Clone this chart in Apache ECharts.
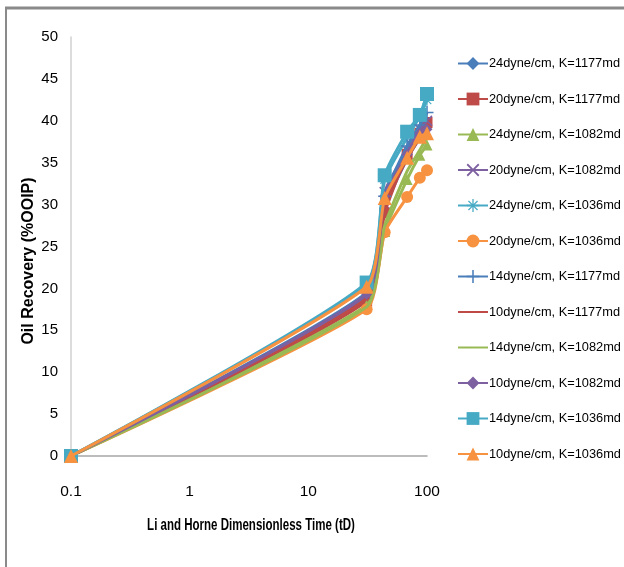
<!DOCTYPE html>
<html>
<head>
<meta charset="utf-8">
<script src="https://cdn.jsdelivr.net/npm/echarts@6/dist/echarts.min.js"></script>
<style>
html,body{margin:0;padding:0;background:#fff;}
#c{width:624px;height:567px;}
</style>
</head>
<body>
<div id="c"></div>
<script>
// ---- data ----
var tD = [0.1, 31, 44, 68, 87, 100];
var seriesNames = [
  '24dyne/cm, K=1177md','20dyne/cm, K=1177md','24dyne/cm, K=1082md','20dyne/cm, K=1082md',
  '24dyne/cm, K=1036md','20dyne/cm, K=1036md','14dyne/cm, K=1177md','10dyne/cm, K=1177md',
  '14dyne/cm, K=1082md','10dyne/cm, K=1082md','14dyne/cm, K=1036md','10dyne/cm, K=1036md'
];
var s24_1177 = [0, 19.0, 29.5, 35.5, 38.0, 39.5];
var s20_1177 = [0, 18.5, 29.0, 36.0, 38.5, 39.8];
var s24_1082 = [0, 18.0, 26.8, 33.0, 35.9, 37.1];
var s20_1082 = [0, 19.2, 31.5, 36.5, 39.0, 40.0];
var s24_1036 = [0, 20.5, 33.0, 38.0, 40.5, 42.5];
var s20_1036 = [0, 17.5, 26.7, 30.9, 33.2, 34.1];
var s14_1177 = [0, 19.5, 31.0, 37.0, 39.5, 41.0];
var s10_1177 = [0, 18.8, 30.0, 35.5, 38.0, 39.5];
var s14_1082 = [0, 17.8, 27.5, 34.0, 36.5, 38.0];
var s10_1082 = [0, 19.3, 31.0, 36.0, 38.5, 39.0];
var s14_1036 = [0, 20.7, 33.5, 38.7, 40.7, 43.2];
var s10_1036 = [0, 20.2, 30.8, 35.6, 38.1, 38.5];
var allValues = [s24_1177,s20_1177,s24_1082,s20_1082,s24_1036,s20_1036,s14_1177,s10_1177,s14_1082,s10_1082,s14_1036,s10_1036];
var yTicks = [0,5,10,15,20,25,30,35,40,45,50];
var xTicks = [0.1,1,10,100];

// ---- styles ----
var C = {blue:'#4A7EBB', red:'#BE4B48', green:'#98B954', purple:'#7D60A0', aqua:'#46AAC5', orange:'#F69240'};
var XMARK = 'path://M0,1L1,0L5,4L9,0L10,1L6,5L10,9L9,10L5,6L1,10L0,9L4,5Z';
var PLUS = 'path://M4.4,0H5.6V4.4H10V5.6H5.6V10H4.4V5.6H0V4.4H4.4Z';
var STAR = 'path://M4.5,0H5.5V3.8L8.2,1.1L8.9,1.8L6.2,4.5H10V5.5H6.2L8.9,8.2L8.2,8.9L5.5,6.2V10H4.5V6.2L1.8,8.9L1.1,8.2L3.8,5.5H0V4.5H3.8L1.1,1.8L1.8,1.1L4.5,3.8Z';
var THIN = 'path://M0,0H0.01V0.01H0Z M0,4.7H10V5.3H0Z M9.99,9.99H10V10H9.99Z';
var styles = [
  {color:C.blue, symbol:'diamond', size:11},
  {color:C.red, symbol:'rect', size:11},
  {color:C.green, symbol:'triangle', size:11},
  {color:C.purple, symbol:XMARK, size:11},
  {color:C.aqua, symbol:STAR, size:12},
  {color:C.orange, symbol:'circle', size:12},
  {color:C.blue, symbol:PLUS, size:13},
  {color:C.red, symbol:'none', size:0},
  {color:C.green, symbol:'none', size:0},
  {color:C.purple, symbol:'diamond', size:11},
  {color:C.aqua, symbol:'rect', size:14},
  {color:C.orange, symbol:'triangle', size:14}
];

var series = allValues.map(function(vals, i){
  var st = styles[i];
  return {
    name: seriesNames[i],
    type: 'line',
    smooth: 0.18,
    data: tD.map(function(x, j){ return [x, vals[j]]; }),
    symbol: st.symbol === 'none' ? THIN : st.symbol,
    symbolSize: st.size,
    showSymbol: st.symbol !== 'none',
    lineStyle: {color: st.color, width: 3},
    itemStyle: {color: st.color},
    z: 2 + i
  };
});

var chart = echarts.init(document.getElementById('c'), null, {renderer:'canvas'});
var FONT = '"Liberation Sans",Arial,sans-serif';
chart.setOption({
  backgroundColor: '#fff',
  animation: false,
  graphic: [
    {type:'line', shape:{x1:5, y1:8, x2:624, y2:8}, style:{stroke:'#8a8a8a', lineWidth:3}},
    {type:'line', shape:{x1:6, y1:8, x2:6, y2:567}, style:{stroke:'#8a8a8a', lineWidth:2}},
    {type:'text', x:251, y:526, scaleX:0.72,
      style:{text:'Li and Horne Dimensionless Time (tD)', fill:'#000',
        font:'bold 16px "Liberation Sans", Arial, sans-serif', textAlign:'center', textVerticalAlign:'middle'}},
    {type:'text', x:29, y:261, rotation:Math.PI/2,
      style:{text:'Oil Recovery (%OOIP)', fill:'#000',
        font:'bold 16px "Liberation Sans", Arial, sans-serif', textAlign:'center', textVerticalAlign:'middle'}}
  ],
  grid: {left:71, right:197, top:37, bottom:111, containLabel:false},
  legend: {
    orient: 'vertical',
    left: 452,
    top: 52,
    itemGap: 22.5,
    itemWidth: 30,
    itemHeight: 16,
    textStyle: {fontFamily: FONT, fontSize: 12.8, color:'#000', padding:[0,0,0,-4]},
    data: seriesNames
  },
  xAxis: {
    type: 'log',
    logBase: 10,
    min: 0.1,
    max: 100,
    axisLine: {lineStyle:{color:'#a6a6a6', width:1.5}},
    axisTick: {show:false},
    minorTick: {show:false},
    splitLine: {show:false},
    axisLabel: {fontFamily: FONT, fontSize: 15.5, color:'#000', margin: 28,
      formatter: function(v){ return xTicks.indexOf(+(+v).toPrecision(6)) >= 0 ? String(+(+v).toPrecision(6)) : ''; }}
  },
  yAxis: {
    type: 'value',
    min: 0,
    max: 50,
    interval: 5,
    axisLine: {show:true, lineStyle:{color:'#d0d0d0', width:1.5}},
    axisTick: {show:false},
    splitLine: {show:false},
    axisLabel: {fontFamily: FONT, fontSize: 15, color:'#000', margin: 13,
      formatter: function(v){ return yTicks.indexOf(v) >= 0 ? String(v) : ''; }}
  },
  series: series
});
</script>
</body>
</html>
